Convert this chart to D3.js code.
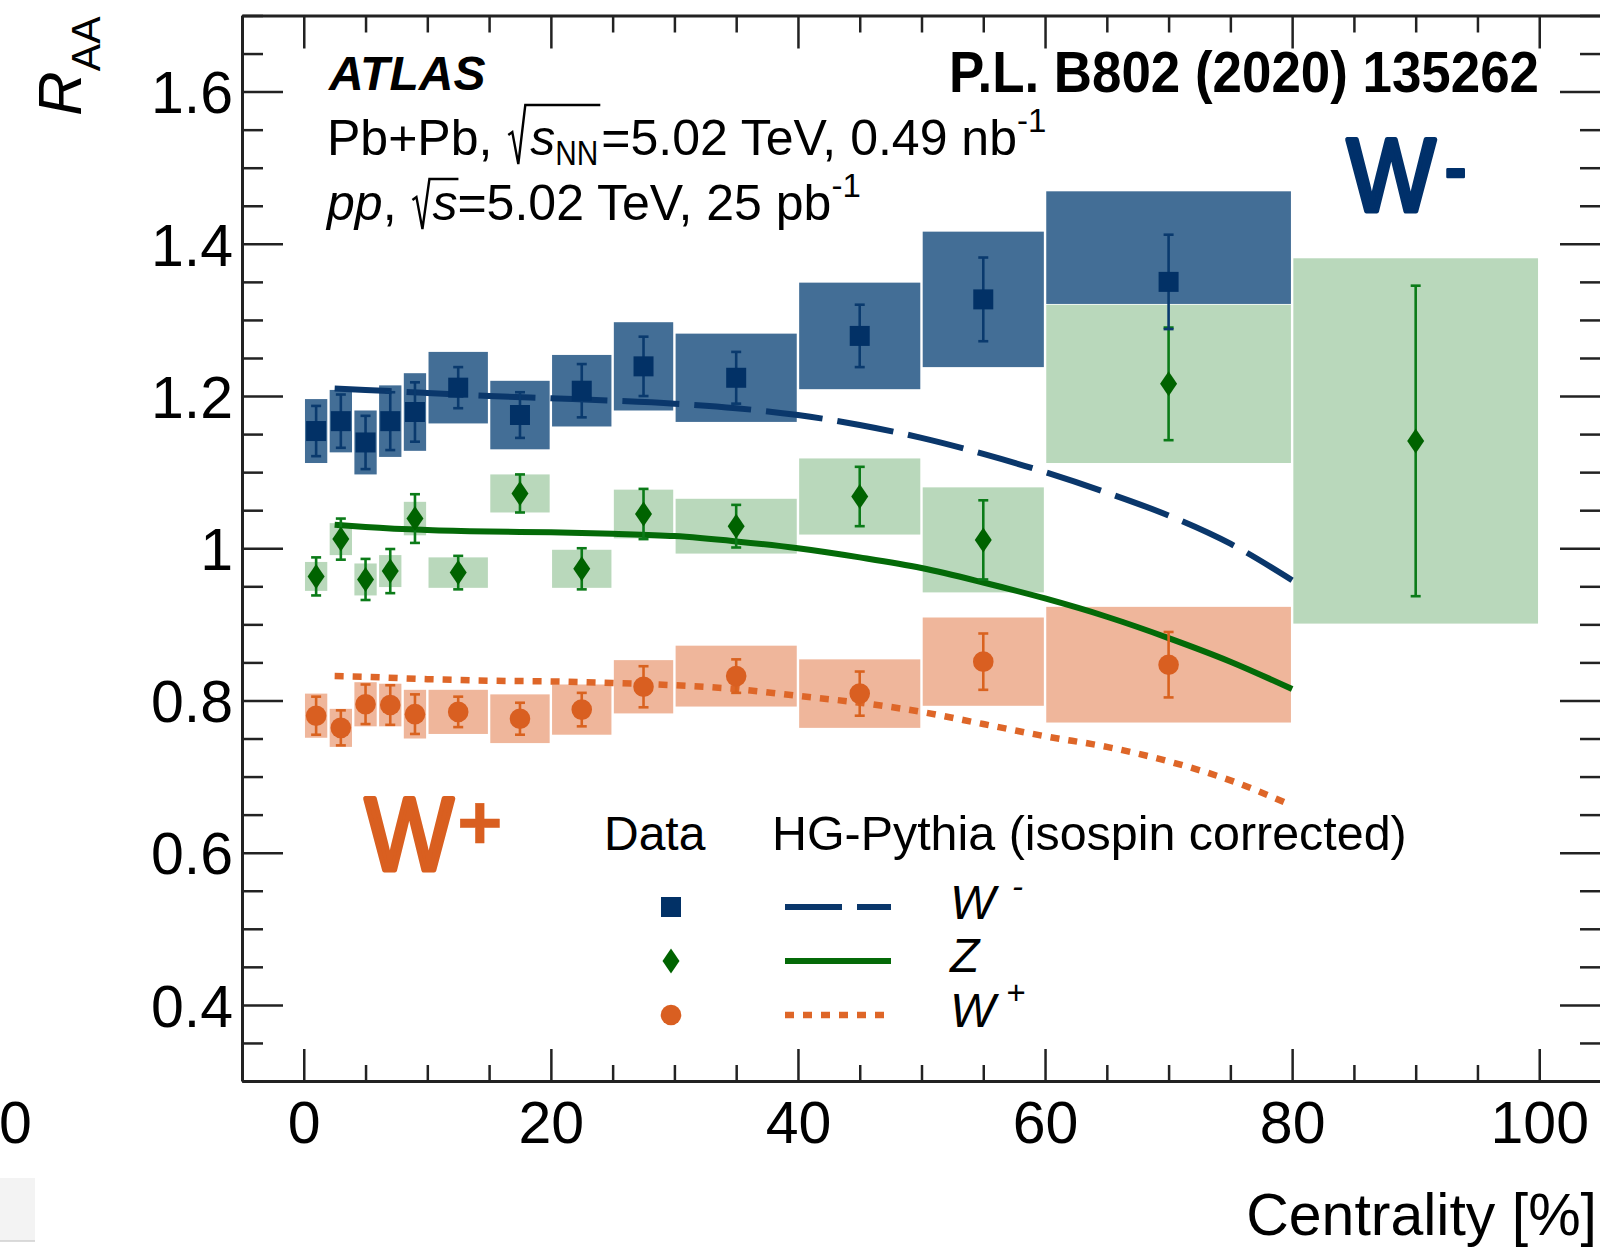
<!DOCTYPE html>
<html>
<head>
<meta charset="utf-8">
<script src="https://cdn.jsdelivr.net/npm/d3@7"></script>
<style>
  html, body { margin: 0; padding: 0; background: #fff; overflow: hidden; }
  svg { display: block; }
  text { font-family: "Liberation Sans", Arial, Helvetica, sans-serif; }
</style>
</head>
<body>
<svg id="chart" width="1600" height="1251"></svg>
<script>
// ---- Centrality bins (%) ----
const binsW = [[0,2],[2,4],[4,6],[6,8],[8,10],[10,15],[15,20],[20,25],[25,30],[30,40],[40,50],[50,60],[60,80]];
const binsZ = [[0,2],[2,4],[4,6],[6,8],[8,10],[10,15],[15,20],[20,25],[25,30],[30,40],[40,50],[50,60],[60,80],[80,100]];

// ---- R_AA measurements: central value, statistical error, systematic error ----
const wMinusRaa      = [1.154, 1.167, 1.139, 1.167, 1.179, 1.211, 1.175, 1.207, 1.239, 1.224, 1.279, 1.327, 1.350];
const wMinusStat     = [0.033, 0.035, 0.035, 0.038, 0.039, 0.027, 0.030, 0.035, 0.039, 0.034, 0.041, 0.055, 0.062];
const wMinusSystUp   = [0.042, 0.041, 0.042, 0.047, 0.051, 0.047, 0.045, 0.047, 0.058, 0.058, 0.070, 0.089, 0.119];
const wMinusSystDown = [0.042, 0.041, 0.042, 0.047, 0.051, 0.047, 0.045, 0.047, 0.058, 0.058, 0.070, 0.089, 0.029];

const zRaa  = [0.963, 1.012, 0.959, 0.970, 1.039, 0.968, 1.072, 0.973, 1.045, 1.029, 1.068, 1.011, 1.216, 1.141];
const zStat = [0.025, 0.027, 0.027, 0.029, 0.032, 0.022, 0.025, 0.027, 0.033, 0.028, 0.039, 0.052, 0.074, 0.204];
const zSyst = [0.019, 0.021, 0.021, 0.021, 0.022, 0.020, 0.025, 0.025, 0.032, 0.036, 0.050, 0.069, 0.104, 0.240];

const wPlusRaa  = [0.780, 0.764, 0.795, 0.794, 0.782, 0.785, 0.776, 0.788, 0.818, 0.832, 0.809, 0.851, 0.847];
const wPlusStat = [0.025, 0.023, 0.026, 0.026, 0.026, 0.020, 0.021, 0.022, 0.027, 0.022, 0.029, 0.037, 0.043];
const wPlusSyst = [0.029, 0.025, 0.029, 0.028, 0.032, 0.029, 0.032, 0.033, 0.035, 0.040, 0.045, 0.058, 0.076];

// ---- HG-Pythia (isospin corrected) predictions ----
const modelCent   = [2.5, 5, 10, 15, 20, 25, 30, 35, 40, 45, 50, 55, 60, 65, 70, 75, 80];
const modelWMinus = [1.210, 1.208, 1.204, 1.200, 1.197, 1.194, 1.190, 1.184, 1.175, 1.162, 1.145, 1.124, 1.100, 1.073, 1.043, 1.006, 0.958];
const modelZ      = [1.031, 1.028, 1.024, 1.022, 1.021, 1.019, 1.016, 1.009, 1.000, 0.988, 0.974, 0.955, 0.934, 0.910, 0.882, 0.851, 0.815];
const modelWPlus  = [0.832, 0.831, 0.828, 0.826, 0.825, 0.823, 0.820, 0.815, 0.806, 0.797, 0.785, 0.769, 0.753, 0.739, 0.720, 0.695, 0.662];

// ---- Axis ticks ----
const xTickValues = [0, 20, 40, 60, 80, 100];
const xTickLabels = ["0", "20", "40", "60", "80", "100"];
const yTickValues = [0.4, 0.6, 0.8, 1.0, 1.2, 1.4, 1.6];
const yTickLabels = ["0.4", "0.6", "0.8", "1", "1.2", "1.4", "1.6"];

// ---- Colours ----
const C = {
  wmBox: "#436e96", wmMark: "#023166", wmErr: "#0a3a6e", wmLine: "#0a376b", wmLabel: "#00306a",
  zBox: "#b9d8bb", zMark: "#006300", zErr: "#0b7b18", zLine: "#046a08",
  wpBox: "#efb69b", wpMark: "#d95f21", wpErr: "#d9621f", wpLine: "#de6628", wpLabel: "#d95f20",
  axis: "#222"
};

const svg = d3.select("#chart");
const x = d3.scaleLinear().domain([-5, 105]).range([242, 1601]);
const y = d3.scaleLinear().domain([0.3, 1.7]).range([1081, 15.5]);

// stray pieces at the lower left edge
svg.append("rect").attr("x", 0).attr("y", 1178).attr("width", 35).attr("height", 63).attr("fill", "#f3f3f3");
svg.append("line").attr("x1", 0).attr("x2", 35).attr("y1", 1241).attr("y2", 1241).attr("stroke", "#cfcfcf").attr("stroke-width", 1.5);
svg.append("text").attr("x", -1).attr("y", 1143).attr("font-size", 59).text("0");

// ---- systematic boxes ----
function boxes(bins, vals, up, down, fill) {
  svg.append("g").selectAll("rect").data(bins).join("rect")
    .attr("x", (b) => x(b[0]) + 1.2)
    .attr("width", (b) => x(b[1]) - x(b[0]) - 2.4)
    .attr("y", (b, i) => y(vals[i] + up[i]))
    .attr("height", (b, i) => y(vals[i] - down[i]) - y(vals[i] + up[i]))
    .attr("fill", fill);
}
boxes(binsZ, zRaa, zSyst, zSyst, C.zBox);
boxes(binsW, wPlusRaa, wPlusSyst, wPlusSyst, C.wpBox);
boxes(binsW, wMinusRaa, wMinusSystUp, wMinusSystDown, C.wmBox);

// ---- model curves ----
const line = (vals) => d3.line().x((d, i) => x(modelCent[i])).y((d) => y(d)).curve(d3.curveMonotoneX)(vals);
svg.append("path").attr("d", line(modelWMinus)).attr("fill", "none").attr("stroke", C.wmLine)
  .attr("stroke-width", 6).attr("stroke-dasharray", "57 15");
svg.append("path").attr("d", line(modelZ)).attr("fill", "none").attr("stroke", C.zLine).attr("stroke-width", 6);
svg.append("path").attr("d", line(modelWPlus)).attr("fill", "none").attr("stroke", C.wpLine)
  .attr("stroke-width", 6.5).attr("stroke-dasharray", "9 9");

// ---- statistical error bars + markers ----
function errBars(bins, vals, stat, color) {
  const g = svg.append("g").attr("stroke", color).attr("stroke-width", 2.6);
  bins.forEach((b, i) => {
    const cx = x((b[0] + b[1]) / 2);
    const y0 = y(vals[i] - stat[i]), y1 = y(vals[i] + stat[i]);
    g.append("line").attr("x1", cx).attr("x2", cx).attr("y1", y0).attr("y2", y1);
    g.append("line").attr("x1", cx - 5).attr("x2", cx + 5).attr("y1", y0).attr("y2", y0);
    g.append("line").attr("x1", cx - 5).attr("x2", cx + 5).attr("y1", y1).attr("y2", y1);
  });
}
errBars(binsZ, zRaa, zStat, C.zErr);
errBars(binsW, wPlusRaa, wPlusStat, C.wpErr);
errBars(binsW, wMinusRaa, wMinusStat, C.wmErr);

const squarePath = (cx, cy) => `M${cx - 10},${cy - 10}h20v20h-20Z`;
const diamondPath = (cx, cy) => `M${cx},${cy - 12.5}L${cx + 8.5},${cy}L${cx},${cy + 12.5}L${cx - 8.5},${cy}Z`;
const circlePath = (cx, cy) => `M${cx - 10.3},${cy}a10.3,10.3 0 1,0 20.6,0a10.3,10.3 0 1,0 -20.6,0Z`;

function markers(bins, vals, shape, color) {
  svg.append("g").selectAll("path").data(bins).join("path")
    .attr("d", (b, i) => shape(x((b[0] + b[1]) / 2), y(vals[i])))
    .attr("fill", color);
}
markers(binsZ, zRaa, diamondPath, C.zMark);
markers(binsW, wPlusRaa, circlePath, C.wpMark);
markers(binsW, wMinusRaa, squarePath, C.wmMark);

// ---- axes / frame ----
function styleAxis(g, noLabels) {
  g.attr("font-family", null).attr("font-size", null);
  g.selectAll(".tick line").attr("stroke", C.axis).attr("stroke-width", 2.5);
  g.select(".domain").attr("stroke", C.axis).attr("stroke-width", 3);
  if (noLabels) g.selectAll(".tick text").remove();
}
const xMinor = d3.range(-5, 106, 5).filter((v) => v % 20 !== 0);
const yMinor = d3.range(0.3, 1.7001, 0.05).map((v) => +v.toFixed(2)).filter((v) => !yTickValues.some((t) => Math.abs(t - v) < 1e-6));

// bottom
const gB = svg.append("g").attr("transform", `translate(0,${y.range()[0]})`)
  .call(d3.axisBottom(x).tickValues(xTickValues).tickSize(-32).tickSizeOuter(0)
    .tickFormat((d, i) => xTickLabels[i]));
styleAxis(gB, false);
gB.selectAll(".tick text").attr("y", 62).attr("dy", null).attr("font-size", 59);
svg.append("g").attr("transform", `translate(0,${y.range()[0]})`)
  .call(d3.axisBottom(x).tickValues(xMinor).tickSize(-16).tickFormat(""))
  .call((g) => { styleAxis(g, true); g.select(".domain").remove(); });

// top
const gT = svg.append("g").attr("transform", `translate(0,${y.range()[1]})`)
  .call(d3.axisTop(x).tickValues(xTickValues).tickSize(-33).tickSizeOuter(0).tickFormat(""));
styleAxis(gT, true);
svg.append("g").attr("transform", `translate(0,${y.range()[1]})`)
  .call(d3.axisTop(x).tickValues(xMinor).tickSize(-17).tickFormat(""))
  .call((g) => { styleAxis(g, true); g.select(".domain").remove(); });

// left
const gL = svg.append("g").attr("transform", `translate(${x.range()[0]},0)`)
  .call(d3.axisLeft(y).tickValues(yTickValues).tickSize(-41).tickSizeOuter(0).tickPadding(9)
    .tickFormat((d, i) => yTickLabels[i]));
styleAxis(gL, false);
gL.selectAll(".tick text").attr("dy", "0.36em").attr("font-size", 59);
svg.append("g").attr("transform", `translate(${x.range()[0]},0)`)
  .call(d3.axisLeft(y).tickValues(yMinor).tickSize(-21).tickFormat(""))
  .call((g) => { styleAxis(g, true); g.select(".domain").remove(); });

// right
const gR = svg.append("g").attr("transform", `translate(${x.range()[1]},0)`)
  .call(d3.axisLeft(y).tickValues(yTickValues).tickSize(41).tickSizeOuter(0).tickFormat(""));
styleAxis(gR, true);
svg.append("g").attr("transform", `translate(${x.range()[1]},0)`)
  .call(d3.axisLeft(y).tickValues(yMinor).tickSize(21).tickFormat(""))
  .call((g) => { styleAxis(g, true); g.select(".domain").remove(); });

// axis titles
svg.append("text").attr("x", 1597).attr("y", 1235).attr("text-anchor", "end").attr("font-size", 59)
  .text("Centrality [%]");
const yt = svg.append("text").attr("transform", "translate(81,116) rotate(-90)").attr("font-size", 62);
yt.append("tspan").attr("font-style", "italic").text("R");
yt.append("tspan").attr("font-size", 41).attr("dy", 19).text("AA");

// ---- annotations ----
svg.append("text").attr("x", 329).attr("y", 90).attr("font-size", 48)
  .attr("font-weight", "bold").attr("font-style", "italic").text("ATLAS");
svg.append("text").attr("x", 1539).attr("y", 92).attr("font-size", 57).attr("font-weight", "bold")
  .attr("text-anchor", "end").attr("textLength", 590).attr("lengthAdjust", "spacingAndGlyphs")
  .text("P.L. B802 (2020) 135262");

// lay out a run of text pieces one after another on a common baseline
function textRun(x0, base, parts) {
  let cx = x0;
  parts.forEach((p) => {
    if (p.gap) { p.x0 = cx; cx += p.gap; p.x1 = cx; return; }
    const t = svg.append("text").attr("x", cx).attr("y", base + (p.dy || 0))
      .attr("font-size", p.size || 50).attr("font-style", p.italic ? "italic" : "normal")
      .style("white-space", "pre").text(p.t);
    if (p.len) t.attr("textLength", p.len).attr("lengthAdjust", "spacingAndGlyphs");
    p.x0 = cx;
    cx += (p.len || t.node().getComputedTextLength()) + (p.after || 0);
    p.x1 = cx;
  });
  return parts;
}
function radical(x0, x1, base, top) {
  svg.append("path")
    .attr("d", `M${x0},${base - 20}L${x0 + 4},${base - 23}L${x0 + 10},${base + 9}L${x0 + 17},${base - top}L${x1},${base - top}`)
    .attr("fill", "none").attr("stroke", "#000").attr("stroke-width", 2.4).attr("stroke-linejoin", "miter");
}
const l1 = textRun(327, 155, [
  { t: "Pb+Pb, " }, { gap: 24 }, { t: "s", italic: true }, { t: "NN", size: 35, dy: 10, len: 43, after: 3 },
  { t: "=5.02 TeV, 0.49 nb" }, { t: "-1", size: 33, dy: -23 }
]);
radical(l1[1].x0 + 2, l1[3].x1 - 1, 155, 50);
const l2 = textRun(327, 220, [
  { t: "pp", italic: true }, { t: ", " }, { gap: 22 }, { t: "s", italic: true },
  { t: "=5.02 TeV, 25 pb" }, { t: "-1", size: 33, dy: -23 }
]);
radical(l2[2].x0 + 2, l2[3].x1 + 1, 220, 41);

// big boson labels (rounded look from a stroked outline)
const labelFont = "'Open Sans', 'DejaVu Sans', sans-serif";
function bigLabel(xp, yp, color, main, sup, sx, sy, ssize, sw) {
  svg.append("text").attr("transform", `translate(${xp},${yp}) scale(0.9,1)`)
    .attr("font-family", labelFont).attr("font-weight", 400).attr("font-size", 104)
    .style("fill", color).style("stroke", color).attr("stroke-width", 5).attr("stroke-linejoin", "round")
    .text(main);
  svg.append("text").attr("x", sx).attr("y", sy)
    .attr("font-family", labelFont).attr("font-weight", 700).attr("font-size", ssize)
    .style("fill", color).style("stroke", color).attr("stroke-width", sw).attr("stroke-linejoin", "round")
    .text(sup);
}
bigLabel(1347, 211, C.wmLabel, "W", "-", 1445, 190, 64, 2.5);
bigLabel(365, 870, C.wpLabel, "W", "+", 457, 849, 78, 0.5);

// ---- legend ----
svg.append("text").attr("x", 604).attr("y", 850).attr("font-size", 48).text("Data");
svg.append("text").attr("x", 772).attr("y", 850).attr("font-size", 48.4).text("HG-Pythia (isospin corrected)");
const legRows = [
  { cy: 907, shape: squarePath, mark: C.wmMark, stroke: C.wmLine, dash: "57 15", w: 6 },
  { cy: 961, shape: diamondPath, mark: C.zMark, stroke: C.zLine, dash: null, w: 6 },
  { cy: 1015, shape: circlePath, mark: C.wpMark, stroke: C.wpLine, dash: "9 9", w: 6.5 }
];
legRows.forEach((r) => {
  svg.append("path").attr("d", r.shape(671, r.cy)).attr("fill", r.mark);
  svg.append("line").attr("x1", 785).attr("x2", 891).attr("y1", r.cy).attr("y2", r.cy)
    .attr("stroke", r.stroke).attr("stroke-width", r.w).attr("stroke-dasharray", r.dash);
});
const legLabel = (base, main, sup, supX, supY) => {
  svg.append("text").attr("x", 950).attr("y", base).attr("font-size", 48).attr("font-style", "italic").text(main);
  if (sup) svg.append("text").attr("x", supX).attr("y", supY).attr("font-size", 33).attr("font-style", "italic").text(sup);
};
legLabel(919, "W", "-", 1012, 898);
legLabel(972, "Z", null);
legLabel(1027, "W", "+", 1006, 1004);
</script>
</body>
</html>
